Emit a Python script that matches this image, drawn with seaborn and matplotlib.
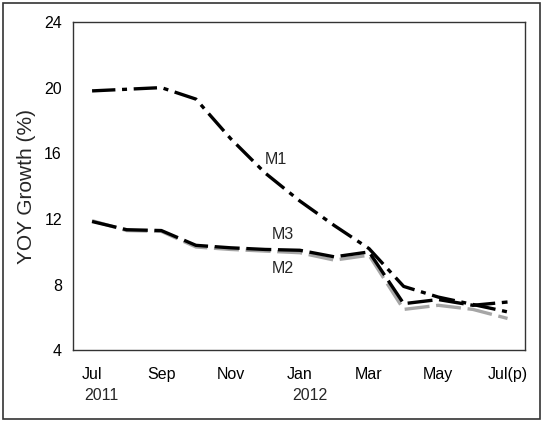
import pandas as pd
import matplotlib
matplotlib.use("Agg")
import matplotlib.pyplot as plt
import seaborn as sns
from matplotlib.patches import Rectangle

# ============================
# Data
# ============================

months = ["Jul", "Aug", "Sep", "Oct", "Nov", "Dec", "Jan",
          "Feb", "Mar", "Apr", "May", "Jun", "Jul(p)"]
m1 = [19.8, 19.9, 20.0, 19.3, 16.9, 14.8, 13.1, 11.6, 10.2, 7.9, 7.25, 6.8, 6.35]
m2 = [11.9, 11.3, 11.25, 10.3, 10.15, 10.05, 9.95, 9.5, 9.8, 6.5, 6.75, 6.5, 5.95]
m3 = [11.85, 11.35, 11.3, 10.4, 10.25, 10.15, 10.1, 9.7, 10.0, 6.85, 7.1, 6.75, 6.95]
year_labels = {0: "2011", 6: "2012"}

df = pd.DataFrame({"pos": range(len(months)), "M1": m1, "M2": m2, "M3": m3})

# ============================
# Plot
# ============================

sns.set_style("white")
plt.rcParams["font.family"] = ["Liberation Sans", "DejaVu Sans"]

fig = plt.figure(figsize=(5.45, 4.21), dpi=100)
ax = fig.add_axes([0.134, 0.1675, 0.829, 0.7805])

lw = 2.4
sns.lineplot(data=df, x="pos", y="M2", ax=ax, color="#a6a6a6", lw=lw,
             linestyle=(0, (7.5, 2)), zorder=2)
sns.lineplot(data=df, x="pos", y="M3", ax=ax, color="black", lw=lw,
             linestyle=(0, (7.5, 2)), zorder=3)
sns.lineplot(data=df, x="pos", y="M1", ax=ax, color="black", lw=lw,
             linestyle=(0, (7, 2, 1.5, 2)), zorder=4)

# series labels
ax.text(5.3, 15.6, "M1", fontsize=11.5, ha="center", va="center")
ax.text(5.5, 11.05, "M3", fontsize=11.5, ha="center", va="center")
ax.text(5.5, 9.0, "M2", fontsize=11.5, ha="center", va="center")

ax.set_xlim(-0.55, 12.5)
ax.set_ylim(4, 24)
ax.set_yticks(range(4, 25, 4))
ax.set_xticks(range(len(months)))
ax.set_xticklabels([m if i % 2 == 0 else "" for i, m in enumerate(months)])
ax.tick_params(axis="x", direction="inout", length=8, width=1, pad=8,
               labelsize=11.5, colors="black")
ax.tick_params(axis="y", direction="out", length=5, width=1, pad=3,
               labelsize=11.5, colors="black")
ax.set_xlabel("")
ax.set_ylabel("YOY Growth (%)", fontsize=15, labelpad=6)

for side in ["left", "right", "top", "bottom"]:
    ax.spines[side].set_visible(True)
    ax.spines[side].set_color("#333333")
    ax.spines[side].set_linewidth(1)

for pos, label in year_labels.items():
    ax.annotate(label, xy=(pos, 0), xycoords=("data", "axes fraction"),
                xytext=(7, -27), textcoords="offset points",
                ha="center", va="top", fontsize=11.5)

# frame around the whole figure
fig.patches.append(Rectangle((0.006, 0.005), 0.985, 0.987, transform=fig.transFigure,
                             fill=False, edgecolor="#333333", linewidth=1.2))

fig.savefig("out.png", dpi=100)
